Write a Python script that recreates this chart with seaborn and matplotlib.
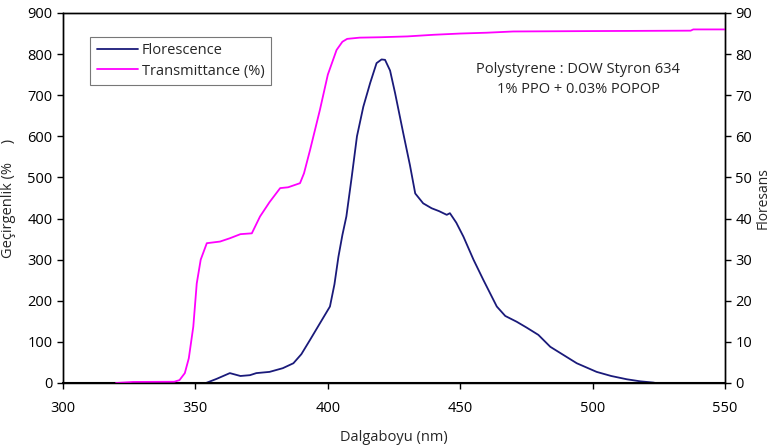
import matplotlib
matplotlib.use("Agg")
import matplotlib.pyplot as plt
import seaborn as sns
import pandas as pd

# --- data ---
flor_wl = [326, 340, 354, 358, 363, 367, 370.6, 373, 378, 383, 387, 390, 393.3, 397,
           400.8, 402.5, 404, 405.5, 407, 409, 411, 413.4, 416, 418.4, 420.3, 421.6,
           423.5, 425.4, 428.5, 431, 433, 436, 439.2, 442, 444.9, 446.1, 448.5,
           451.2, 455, 458.7, 463.8, 467, 471.3, 475, 479.5, 484, 489, 494, 501.5,
           507, 512.9, 518, 522.9, 523.7]
flor_val = [0, 0, 0, 10, 24, 17, 19, 24, 27, 36, 48, 70, 105, 145,
            186, 240, 307, 360, 405, 500, 600, 672, 730, 778, 787, 786,
            760, 705, 607, 530, 461, 437, 425, 418, 409, 413, 390,
            356, 300, 251, 186, 163, 149, 135, 117, 88, 68, 48, 27,
            17, 9, 4, 1, 0]

trans_wl = [320, 326.4, 342, 344, 346, 347.5, 349.2, 350.5, 352, 354.3, 359.3, 363,
            367, 371.3, 374.4, 378, 382, 385, 389.5, 391, 393.3, 397, 400, 403.3,
            405.5, 407.3, 412, 420, 430, 440, 450, 460, 470, 500, 537, 538, 550]
trans_val = [0, 0.25, 0.3, 0.7, 2.4, 6, 13.7, 24.2, 30, 34, 34.4, 35.2,
             36.2, 36.4, 40.5, 44, 47.4, 47.6, 48.6, 51, 56.7, 66.4, 75, 81,
             83, 83.7, 84, 84.1, 84.3, 84.7, 85, 85.2, 85.5, 85.6, 85.7, 86, 86]

flor = pd.DataFrame({"wl": flor_wl, "val": flor_val})
trans = pd.DataFrame({"wl": trans_wl, "val": trans_val})

sns.set_style("ticks")
plt.rcParams['font.family'] = ['Open Sans', 'DejaVu Sans']

fig = plt.figure(figsize=(7.73, 4.46), dpi=100)
ax = fig.add_axes([0.0815, 0.1413, 0.8565, 0.8296])
ax2 = ax.twinx()

sns.lineplot(data=flor, x="wl", y="val", ax=ax, color="#1a1a7a", linewidth=1.3)
sns.lineplot(data=trans, x="wl", y="val", ax=ax2, color="#ff00ff", linewidth=1.3)

ax.set_xlim(300, 550)
ax.set_ylim(0, 900)
ax2.set_ylim(0, 90)
ax.set_xticks(range(300, 551, 50))
ax.set_yticks(range(0, 901, 100))
ax2.set_yticks(range(0, 91, 10))

for a in (ax, ax2):
    a.tick_params(labelsize=10.5, length=4, width=1, colors="black")
    for s in a.spines.values():
        s.set_color("black")
        s.set_linewidth(1)
ax.tick_params(axis="x", pad=9)
ax.spines["bottom"].set_linewidth(1.5)

ax.set_xlabel("Dalgaboyu (nm)", fontsize=10.5, labelpad=10)
ax.set_ylabel("Geçirgenlik (%     )", fontsize=10.5, labelpad=8)
ax2.set_ylabel("Floresans", fontsize=10, labelpad=2)

h1 = plt.Line2D([], [], color="#1a1a7a", linewidth=1.3)
h2 = plt.Line2D([], [], color="#ff00ff", linewidth=1.3)
leg = ax2.legend([h1, h2], ["Florescence", "Transmittance (%)"], loc="upper left",
                 bbox_to_anchor=(0.03, 0.955), fontsize=10.5, fancybox=False,
                 framealpha=1, edgecolor="#777777", handlelength=2.8,
                 handletextpad=0.3, borderpad=0.45, labelspacing=0.35)
leg.get_frame().set_linewidth(0.8)

ax2.text(0.778, 0.82, "Polystyrene : DOW Styron 634\n1% PPO + 0.03% POPOP",
         transform=ax.transAxes, ha="center", va="center", fontsize=10.5,
         linespacing=1.4)

fig.savefig("out.png", dpi=100)
